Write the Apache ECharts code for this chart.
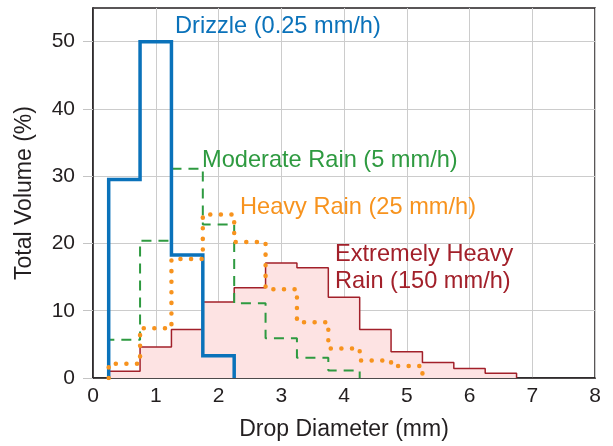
<!DOCTYPE html>
<html><head><meta charset="utf-8">
<script src="https://cdn.jsdelivr.net/npm/echarts@6/dist/echarts.min.js"></script>
<style>html,body{margin:0;padding:0;background:#fff}#c{width:613px;height:446px}</style>
</head><body><div id="c"></div>
<script>
// Bin edges (drop diameter, mm)
const binEdges = [0.25, 0.75, 1.25, 1.75, 2.25, 2.75, 3.25, 3.75, 4.25, 4.75, 5.25, 5.75, 6.25, 6.75];
// Total volume (%) per bin
const drizzle  = [29.5, 50.0, 18.3, 3.3];
const moderate = [5.7, 20.4, 31.1, 22.8, 11.1, 5.9, 3.0, 1.1];
const heavy    = [2.1, 7.4, 17.7, 24.3, 20.2, 13.2, 8.3, 4.4, 2.6, 1.8];
const extreme  = [1.0, 4.6, 7.2, 11.3, 13.4, 17.1, 16.4, 12.0, 7.2, 3.9, 2.3, 1.4, 0.7];
// Axis ticks
const xTicks = [0, 1, 2, 3, 4, 5, 6, 7, 8];
const yTicks = [0, 10, 20, 30, 40, 50];
// Series names / annotations
const nameDrizzle = 'Drizzle (0.25 mm/h)';
const nameModerate = 'Moderate Rain (5 mm/h)';
const nameHeavy = 'Heavy Rain (25 mm/h)';
const nameExtreme = ['Extremely Heavy', 'Rain (150 mm/h)'];
const xTitle = 'Drop Diameter (mm)';
const yTitle = 'Total Volume (%)';

function steps(vals) {
  const pts = [[binEdges[0], 0]];
  vals.forEach((v, i) => { pts.push([binEdges[i], v]); pts.push([binEdges[i + 1], v]); });
  pts.push([binEdges[vals.length], 0]);
  return pts;
}

const FONT = '"Liberation Sans", Arial, Helvetica, sans-serif';
const DARK = '#231f20';
const BLUE = '#0a72ba', GREEN = '#2e9a40', ORANGE = '#f7931e', RED = '#a2202a';
const ANN = '23.6px ' + FONT;

const chart = echarts.init(document.getElementById('c'), null, { renderer: 'canvas' });
chart.setOption({
  animation: false,
  backgroundColor: '#fff',
  grid: { left: 93, right: 18, top: 8, bottom: 66, show: true, borderColor: DARK, borderWidth: 1.5, backgroundColor: 'transparent' },
  xAxis: {
    type: 'value', min: xTicks[0], max: xTicks[xTicks.length - 1], interval: 1,
    name: xTitle, nameLocation: 'middle', nameGap: 40,
    nameTextStyle: { fontFamily: FONT, fontSize: 23, color: DARK },
    axisLine: { show: true, lineStyle: { color: DARK, width: 1.5 } },
    axisTick: { show: false },
    axisLabel: { fontFamily: FONT, fontSize: 21, color: DARK, margin: 8 },
    splitLine: { show: true, lineStyle: { color: '#cccccc', width: 1 } }
  },
  yAxis: {
    type: 'value', min: 0, max: 55, interval: 10,
    name: yTitle, nameLocation: 'middle', nameGap: 57, nameRotate: 90,
    nameTextStyle: { fontFamily: FONT, fontSize: 23, color: DARK },
    axisLine: { show: true, lineStyle: { color: DARK, width: 1.5 } },
    axisTick: { show: true, inside: false, length: 10, customValues: yTicks, lineStyle: { color: '#c4c4c4', width: 1 } },
    axisLabel: { fontFamily: FONT, fontSize: 21, color: DARK, margin: 18, customValues: yTicks },
    splitLine: { show: true, lineStyle: { color: '#cccccc', width: 1 } }
  },
  series: [
    { type: 'line', name: nameExtreme.join(' '), data: steps(extreme), symbol: 'none', z: 2,
      lineStyle: { color: RED, width: 1.5 }, areaStyle: { color: '#fde3e3', opacity: 1 } },
    { type: 'line', name: nameModerate, data: steps(moderate), symbol: 'none', z: 3,
      lineStyle: { color: GREEN, width: 2, type: [10, 7] } },
    { type: 'line', name: nameDrizzle, data: steps(drizzle), symbol: 'none', z: 4,
      lineStyle: { color: BLUE, width: 3.5, join: 'miter' } },
    { type: 'line', name: nameHeavy, data: steps(heavy), symbol: 'none', z: 5,
      lineStyle: { color: ORANGE, width: 4.5, type: [0.1, 10.5], cap: 'round' } }
  ],
  graphic: [
    { type: 'text', x: 175, y: 26.5, z: 10, style: { text: nameDrizzle, font: ANN, fill: BLUE, verticalAlign: 'middle' } },
    { type: 'text', x: 202, y: 160.5, z: 10, style: { text: nameModerate, font: ANN, fill: GREEN, verticalAlign: 'middle' } },
    { type: 'text', x: 240, y: 207.5, z: 10, style: { text: nameHeavy, font: ANN, fill: ORANGE, verticalAlign: 'middle' } },
    { type: 'text', x: 335, y: 254, z: 10, style: { text: nameExtreme[0], font: ANN, fill: RED, verticalAlign: 'middle' } },
    { type: 'text', x: 335, y: 281.5, z: 10, style: { text: nameExtreme[1], font: ANN, fill: RED, verticalAlign: 'middle' } }
  ]
});
</script></body></html>
